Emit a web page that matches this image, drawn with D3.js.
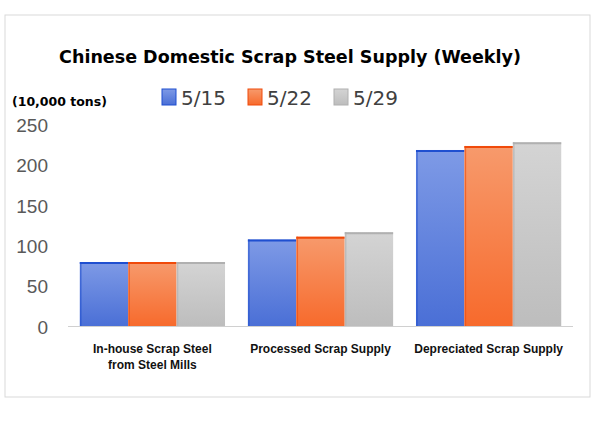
<!DOCTYPE html>
<html><head><meta charset="utf-8">
<script src="https://cdn.jsdelivr.net/npm/d3@7.9.0/dist/d3.min.js"></script>
<style>body{margin:0;background:#fff}</style></head>
<body><svg id="chart" width="600" height="422"></svg>
<script>
const categories = ["In-house Scrap Steel\nfrom Steel Mills", "Processed Scrap Supply", "Depreciated Scrap Supply"];
const weeks = ["5/15", "5/22", "5/29"];
const w515 = [80, 108, 219];
const w522 = [80, 111.5, 224];
const w529 = [80, 117, 228.5];
const yTicks = [0, 50, 100, 150, 200, 250];

const series = [w515, w522, w529];
const fills = [["#7e9ae6", "#4a6fd6"], ["#f79a6c", "#f76a2c"], ["#d4d4d4", "#bdbdbd"]];
const strokes = ["#1f4fd0", "#f04a0a", "#b0b0b0"];

const svg = d3.select("#chart");
svg.append("rect").attr("x", 5).attr("y", 15).attr("width", 585).attr("height", 382)
  .attr("fill", "#fff").attr("stroke", "#d9d9d9");

const defs = svg.append("defs");
fills.forEach((f, i) => {
  const g = defs.append("linearGradient").attr("id", "g" + i).attr("x1", 0).attr("y1", 0).attr("x2", 0).attr("y2", 1);
  g.append("stop").attr("offset", "0%").attr("stop-color", f[0]);
  g.append("stop").attr("offset", "100%").attr("stop-color", f[1]);
});

const x0 = d3.scaleBand().domain(d3.range(categories.length)).range([68, 573]).paddingInner(0.136).paddingOuter(0.07);
const x1 = d3.scaleBand().domain(d3.range(weeks.length)).range([0, x0.bandwidth()]);
const y = d3.scaleLinear().domain([0, 250]).range([326.5, 125]);

svg.append("text").attr("x", 290).attr("y", 63).attr("text-anchor", "middle")
  .attr("font-family", "DejaVu Sans").attr("font-weight", "bold").attr("font-size", 17.5)
  .text("Chinese Domestic Scrap Steel Supply (Weekly)");

svg.append("text").attr("x", 12).attr("y", 106).attr("font-family", "DejaVu Sans")
  .attr("font-weight", "bold").attr("font-size", 12.5).text("(10,000 tons)");

weeks.forEach((w, i) => {
  const lx = 162 + i * 86;
  svg.append("rect").attr("x", lx).attr("y", 89).attr("width", 14).attr("height", 16)
    .attr("fill", `url(#g${i})`).attr("stroke", strokes[i]);
  svg.append("text").attr("x", lx + 19).attr("y", 105).attr("font-family", "DejaVu Sans")
    .attr("font-size", 20).attr("fill", "#404040").text(w);
});

svg.append("g").selectAll("text").data(yTicks).join("text")
  .attr("x", 48).attr("y", d => y(d) + 7).attr("text-anchor", "end")
  .attr("font-family", "Liberation Sans").attr("font-size", 19).attr("fill", "#595959")
  .text(d => d);

series.forEach((s, i) => {
  svg.append("g").selectAll("rect").data(s).join("rect")
    .attr("x", (d, j) => x0(j) + x1(i))
    .attr("y", d => y(d))
    .attr("width", x1.bandwidth())
    .attr("height", d => y(0) - y(d))
    .attr("fill", `url(#g${i})`);
  svg.append("g").selectAll("line").data(s).join("line")
    .attr("x1", (d, j) => x0(j) + x1(i)).attr("x2", (d, j) => x0(j) + x1(i) + x1.bandwidth())
    .attr("y1", d => y(d) + 1).attr("y2", d => y(d) + 1)
    .attr("stroke", strokes[i]).attr("stroke-width", 2);
  svg.append("g").selectAll("line").data(s).join("line")
    .attr("x1", (d, j) => x0(j) + x1(i) + 1).attr("x2", (d, j) => x0(j) + x1(i) + 1)
    .attr("y1", d => y(d)).attr("y2", y(0))
    .attr("stroke", strokes[i]).attr("stroke-width", 1.5).attr("opacity", 0.6);
});

svg.append("line").attr("x1", 68).attr("x2", 573).attr("y1", y(0)).attr("y2", y(0)).attr("stroke", "#d0d0d0");

svg.append("g").selectAll("text").data(categories).join("text")
  .attr("text-anchor", "middle").attr("font-family", "Liberation Sans").attr("font-weight", "bold")
  .attr("font-size", 12).attr("fill", "#111")
  .each(function (d, j) {
    const cx = x0(j) + x0.bandwidth() / 2;
    d.split("\n").forEach((line, k) => {
      d3.select(this).append("tspan").attr("x", cx).attr("y", 353 + k * 16).text(line);
    });
  });
</script></body></html>
